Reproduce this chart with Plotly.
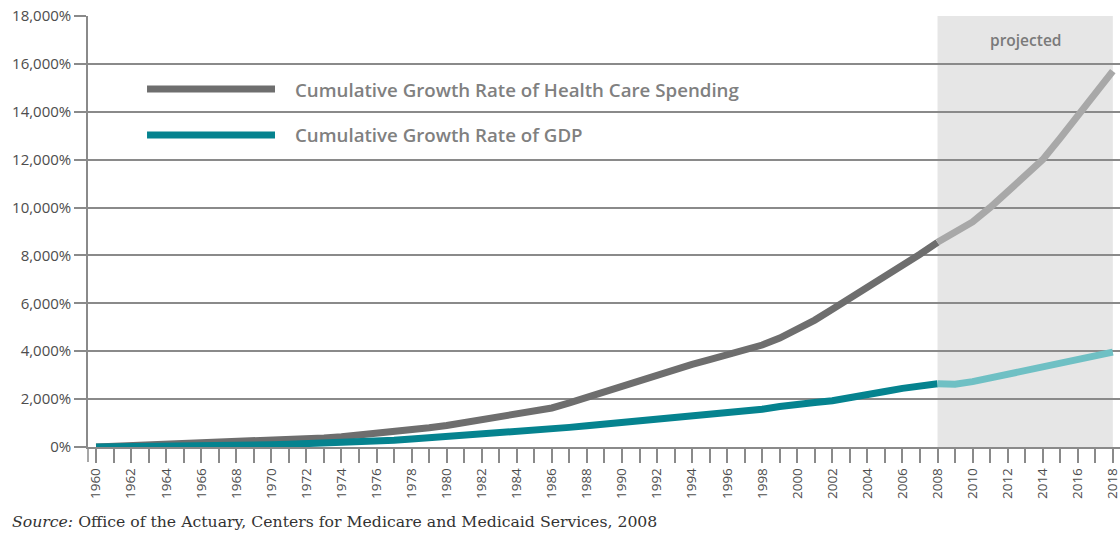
import plotly.graph_objects as go

# Cumulative growth since 1960, in percent
years = list(range(1960, 2019))

health_spending = [
    0, 25, 50, 75, 100, 125, 150, 180, 210, 240,
    270, 300, 340, 380, 430, 490, 555, 630, 710, 800,
    900, 1010, 1120, 1250, 1380, 1500, 1630, 1840, 2080, 2300,
    2510, 2780, 3020, 3250, 3450, 3650, 3850, 4030, 4260, 4550,
    4900, 5300, 5750, 6200, 6650, 7100, 7600, 8050, 8550, 8950,
    9400, 10000, 10650, 11300, 12000, 12900, 13800, 14750, 15700,
]

gdp = [
    0, 3, 11, 17, 26, 36, 48, 56, 70, 84,
    96, 113, 134, 161, 182, 207, 243, 283, 333, 383,
    425, 490, 515, 580, 660, 720, 765, 820, 890, 960,
    1000, 1050, 1110, 1170, 1250, 1310, 1390, 1490, 1580, 1690,
    1800, 1860, 1930, 2040, 2180, 2320, 2450, 2560, 2640, 2620,
    2730, 2880, 3030, 3180, 3340, 3500, 3660, 3810, 3960,
]

projection_start = 2008
projection_end = 2018

y_ticks = [0, 2000, 4000, 6000, 8000, 10000, 12000, 14000, 16000, 18000]
y_tick_labels = ["0%", "2,000%", "4,000%", "6,000%", "8,000%", "10,000%",
                 "12,000%", "14,000%", "16,000%", "18,000%"]
x_tick_labels = [str(y) if y % 2 == 0 else "" for y in years]

HEALTH = "#6e6e6e"
HEALTH_PROJ = "#a8a8a8"
GDP_COL = "#05838f"
GDP_PROJ = "#6fc0c4"
GRID = "#8a8a8a"
LABEL = "#4d4d4d"
SANS = "Open Sans, Lato, sans-serif"

cut = years.index(projection_start)

fig = go.Figure()

def add_line(xs, ys, color):
    fig.add_trace(go.Scatter(
        x=xs, y=ys, mode="lines",
        line=dict(color=color, width=7),
        showlegend=False, hoverinfo="skip",
    ))

add_line(years[:cut + 1], health_spending[:cut + 1], HEALTH)
add_line(years[cut:], health_spending[cut:], HEALTH_PROJ)
add_line(years[:cut + 1], gdp[:cut + 1], GDP_COL)
add_line(years[cut:], gdp[cut:], GDP_PROJ)

# shaded projection band
fig.add_shape(type="rect", xref="x", yref="y",
              x0=projection_start, x1=projection_end, y0=0, y1=18000,
              fillcolor="#e6e6e6", line_width=0, layer="below")

# spine extension below the x axis
fig.add_shape(type="line", xref="paper", yref="paper",
              x0=0, x1=0, y0=0, y1=-0.035,
              line=dict(color=GRID, width=1.5))

# legend keys
legend_items = [
    ("Cumulative Growth Rate of Health Care Spending", HEALTH, 0.8306),
    ("Cumulative Growth Rate of GDP", GDP_COL, 0.7239),
]
for text, color, yp in legend_items:
    fig.add_shape(type="line", xref="paper", yref="paper",
                  x0=0.0572, x1=0.1812, y0=yp, y1=yp,
                  line=dict(color=color, width=7))
    fig.add_annotation(xref="paper", yref="paper", x=0.1986, y=yp,
                       text=text, showarrow=False,
                       xanchor="left", yanchor="middle",
                       font=dict(family=SANS, size=18.7, color="#808080", weight=600))

fig.add_annotation(xref="x", yref="y", x=2013, y=17000, text="projected",
                   showarrow=False, xanchor="center", yanchor="middle",
                   font=dict(family=SANS, size=15.5, color="#7a7a7a", weight=600))

fig.add_annotation(xref="paper", yref="paper", x=-0.0756, y=-0.1717,
                   text="<i>Source:</i> Office of the Actuary, Centers for Medicare and Medicaid Services, 2008",
                   showarrow=False, xanchor="left", yanchor="middle",
                   font=dict(family="DejaVu Serif, serif", size=15.7, color="#333333"))

fig.update_xaxes(
    range=[1959.54, 2018.41],
    tickmode="array", tickvals=years, ticktext=x_tick_labels,
    tickangle=-90, ticks="outside", ticklen=14, tickwidth=1.5, tickcolor=GRID,
    tickfont=dict(family=SANS, size=13.5, color=LABEL),
    ticklabeloverflow="allow",
    showgrid=False, zeroline=False, showline=True, linecolor=GRID, linewidth=1.5,
)
fig.update_yaxes(
    range=[0, 18000],
    tickmode="array", tickvals=y_ticks, ticktext=y_tick_labels,
    ticks="outside", ticklen=12, tickwidth=1.5, tickcolor=GRID,
    tickfont=dict(family=SANS, size=15, color=LABEL),
    showgrid=True, gridcolor=GRID, gridwidth=1.5,
    zeroline=False, showline=True, linecolor=GRID, linewidth=1.5,
)

fig.update_layout(
    width=1120, height=533,
    margin=dict(l=88, r=0, t=16, b=86),
    plot_bgcolor="white", paper_bgcolor="white",
)

fig.write_html("out.html")
